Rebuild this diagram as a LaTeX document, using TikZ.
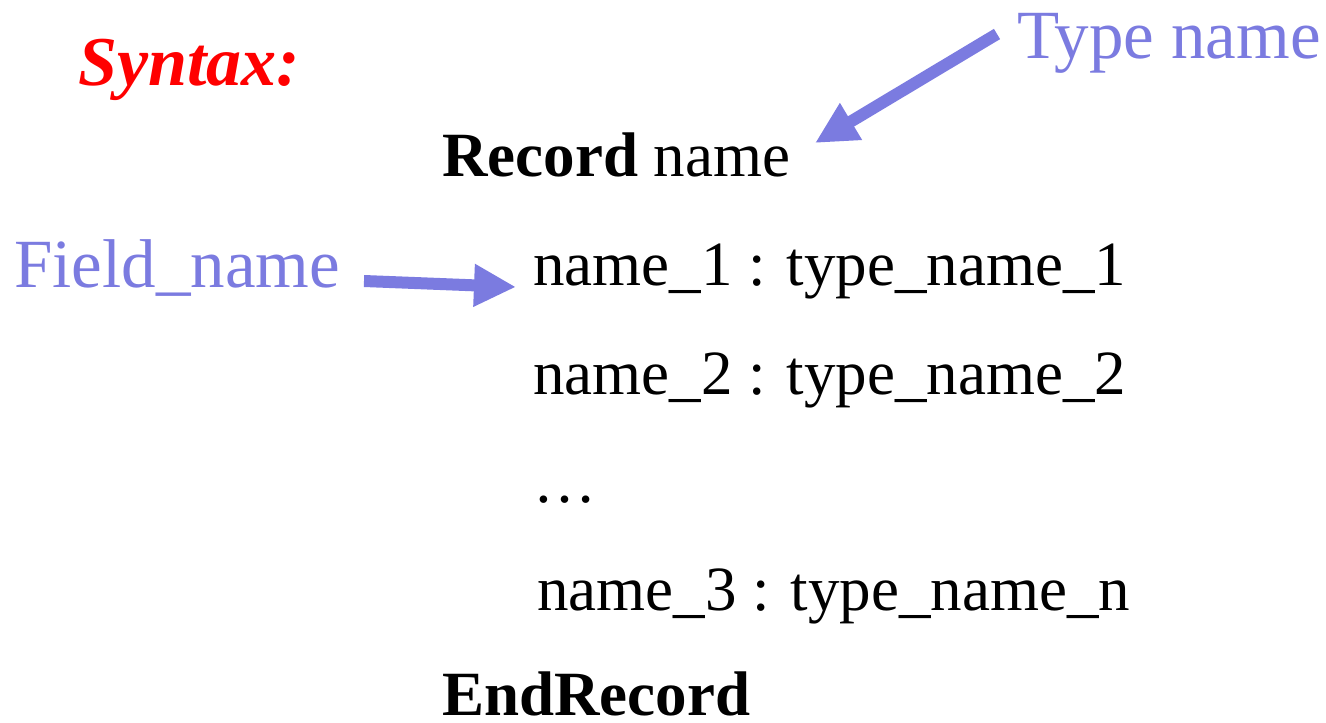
\documentclass[tikz,border=0pt]{standalone}
\usepackage{fontspec}
\setmainfont{Liberation Serif}
\usetikzlibrary{arrows.meta}
\definecolor{lbl}{HTML}{7B7BE0}
\tikzset{
  body/.style={anchor=base west, inner sep=0pt, font=\fontsize{63}{70}\selectfont},
  note/.style={anchor=base west, inner sep=0pt, text=lbl, font=\fontsize{69}{75}\selectfont},
  pointer/.style={draw=lbl, line width=12pt, -{Triangle[length=42pt,width=40pt]}}
}
\begin{document}
\begin{tikzpicture}[x=1pt,y=-1pt]
\useasboundingbox (0,0) rectangle (1326,723);
\node[anchor=base west, inner sep=0pt, text=red, font=\fontsize{70}{75}\selectfont\bfseries\itshape] (syn) at (78,85) {Syntax:};
\node[note] (tn) at (1017,58) {Type name};
\node[note] (fn) at (14,287) {Field\_name};
\node[body] (rec) at (442,176) {\textbf{Record} name};
\node[body] (f1) at (533,285) {name\_1 : type\_name\_1};
\node[body] (f2) at (533,394) {name\_2 : type\_name\_2};
\node[body] (dots) at (533,502) {\dots};
\node[body] (f3) at (537,610) {name\_3 : type\_name\_n};
\node[body, text depth=0pt] (end) at (442,715) {\textbf{EndRecord}};
\coordinate (ta) at (997,34);
\coordinate (tb) at (815,143);
\coordinate (fa) at (364,281);
\coordinate (fb) at (516,287);
\draw[pointer] (ta) -- (tb);
\draw[pointer] (fa) -- (fb);
\end{tikzpicture}
\end{document}
